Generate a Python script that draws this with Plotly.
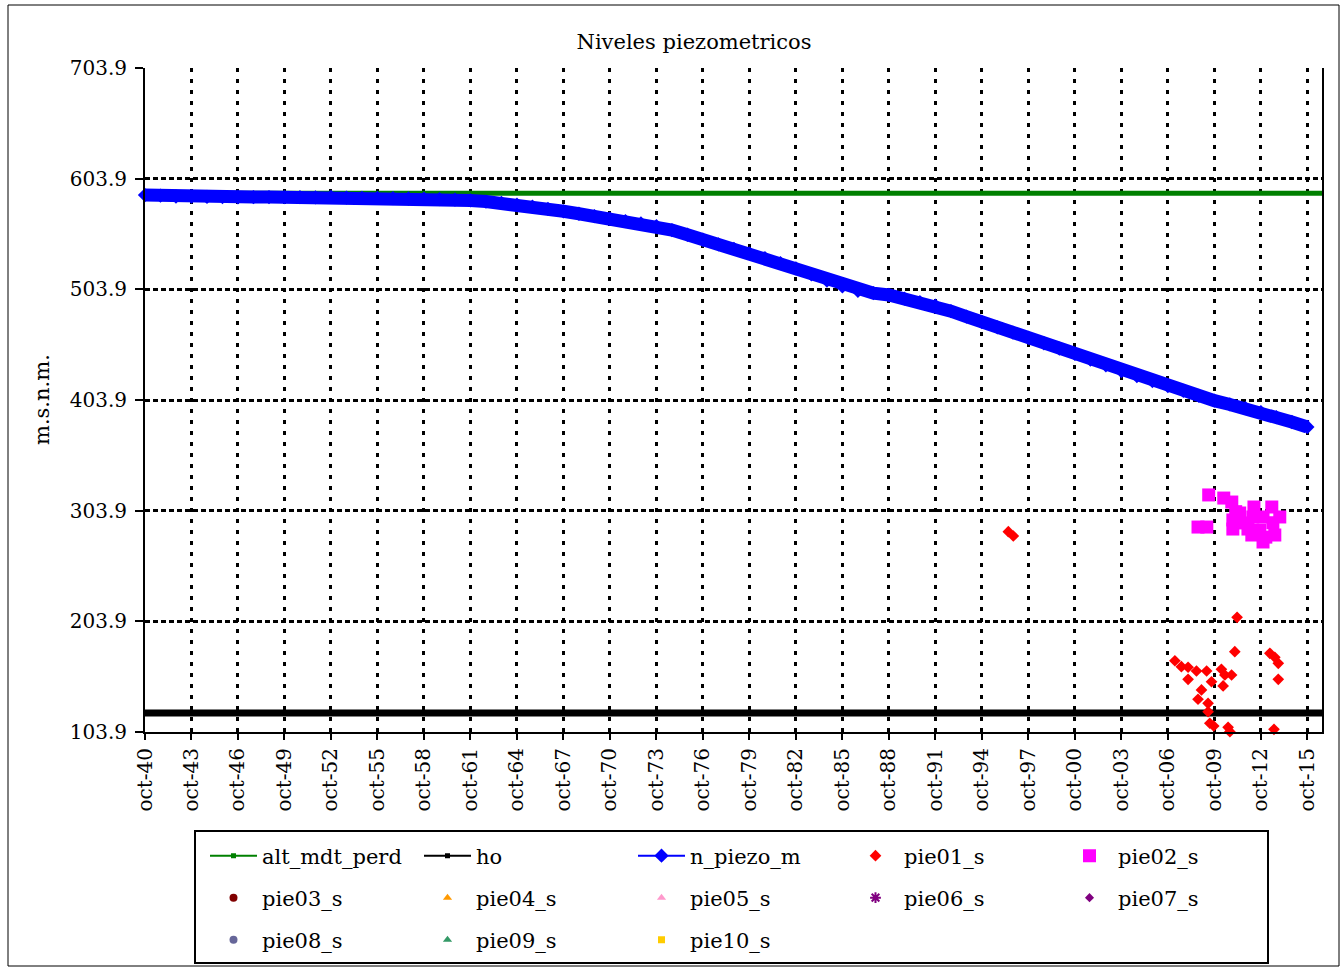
import plotly.graph_objects as go

FONT = "DejaVu Serif"

# n_piezo_m : one reading per october, 1940 -> 2015 (m.s.n.m.)
piezo_years = list(range(1940, 2016))
n_piezo_m = [
    589.1, 588.5, 587.8, 587.6, 587.4, 587.3, 587.1, 587.3, 587.3, 587.2,
    587.2, 587.0, 587.4, 586.8, 586.6, 586.5, 586.3, 586.0, 585.9, 585.4,
    585.0, 584.2, 583.2, 582.0, 580.4, 578.6, 576.6, 574.4, 572.2, 570.0,
    567.7, 565.6, 563.4, 561.1, 557.4, 553.2, 548.7, 544.6, 540.5, 536.4,
    532.0, 527.5, 522.9, 517.5, 511.8, 506.5, 502.6, 500.5, 498.8, 495.5,
    492.3, 489.1, 484.2, 479.3, 474.4, 469.6, 464.8, 460.0, 455.2, 450.4,
    445.5, 440.4, 435.2, 430.0, 425.5, 421.0, 416.5, 412.1, 407.7, 403.3,
    399.9, 396.5, 393.0, 388.5, 384.0, 379.5,
]
piezo_dates = ["%d-10-01" % y for y in piezo_years]

# constant levels over the whole period
ref_dates = ["1940-10-01", "2016-09-10"]
alt_mdt_perd = [590.7, 590.7]
ho = [121.1, 121.1]

# pie01_s
pie01_dates = [
    "1996-06-15", "1996-10-10", "2007-03-15", "2007-08-15", "2008-01-20",
    "2008-01-20", "2008-08-05", "2008-09-10", "2008-12-01", "2009-04-01",
    "2009-05-05", "2009-05-05", "2009-06-15", "2009-07-25", "2009-09-15",
    "2010-03-15", "2010-04-25", "2010-06-05", "2010-08-20", "2010-10-01",
    "2010-11-10", "2011-01-25", "2011-03-20", "2013-04-30", "2013-08-25",
    "2013-11-15", "2013-11-15", "2013-08-05",
]
pie01_s = [
    284.9, 281.0, 168.3, 162.9, 162.4,
    151.5, 159.0, 133.5, 141.9, 159.0,
    129.8, 122.2, 111.8, 149.3, 109.3,
    160.6, 145.5, 155.4, 108.1, 104.2,
    155.4, 176.5, 207.5, 175.0, 171.4,
    166.0, 151.5, 106.3,
]

# pie02_s
pie02_dates = [
    "2008-09-10", "2009-04-05", "2009-05-20", "2010-05-10", "2010-11-15",
    "2010-12-10", "2010-12-10", "2011-02-15", "2011-05-20", "2011-08-01",
    "2011-12-01", "2012-03-01", "2012-04-20", "2012-03-25", "2012-09-05",
    "2012-11-20", "2012-11-20", "2013-01-25", "2013-06-15", "2013-07-10",
    "2013-08-25", "2013-12-20",
]
pie02_s = [
    289.1, 289.1, 318.1, 315.3, 311.7,
    295.5, 287.3, 303.0, 301.8, 292.8,
    287.3, 281.9, 307.2, 298.2, 286.4,
    298.2, 275.6, 280.0, 307.2, 293.0,
    281.9, 298.2,
]

# axis ticks
tick_years = list(range(1940, 2016, 3))
tick_dates = ["%d-10-01" % y for y in tick_years]
tick_labels = ["oct-%02d" % (y % 100) for y in tick_years]
y_ticks = [103.9, 203.9, 303.9, 403.9, 503.9, 603.9, 703.9]

# series with no data, only present in the legend
empty_series = [
    ("pie03_s", "circle", "#800000", 8, "legend2"),
    ("pie04_s", "triangle-up", "#FF9900", 8, "legend2"),
    ("pie05_s", "triangle-up", "#FF99CC", 8, "legend2"),
    ("pie06_s", "asterisk-open", "#800080", 9, "legend2"),
    ("pie07_s", "diamond", "#800080", 7, "legend2"),
    ("pie08_s", "circle", "#666699", 8, "legend3"),
    ("pie09_s", "triangle-up", "#339966", 8, "legend3"),
    ("pie10_s", "square", "#FFCC00", 7, "legend3"),
]

fig = go.Figure()

# plotted lines (thick), legend entries are added separately with thin lines
fig.add_trace(go.Scatter(x=ref_dates, y=alt_mdt_perd, mode="lines",
                         line=dict(color="#008000", width=5), showlegend=False))
fig.add_trace(go.Scatter(x=ref_dates, y=ho, mode="lines",
                         line=dict(color="black", width=7), showlegend=False))
fig.add_trace(go.Scatter(x=piezo_dates, y=n_piezo_m, mode="lines+markers",
                         line=dict(color="#0000FF", width=13),
                         marker=dict(symbol="diamond", size=11, color="#0000FF"),
                         cliponaxis=False, showlegend=False))

# legend row 1
fig.add_trace(go.Scatter(x=[None], y=[None], name="alt_mdt_perd", mode="lines+markers",
                         line=dict(color="#008000", width=2),
                         marker=dict(symbol="square", size=5, color="#008000"),
                         legend="legend"))
fig.add_trace(go.Scatter(x=[None], y=[None], name="ho", mode="lines+markers",
                         line=dict(color="black", width=2),
                         marker=dict(symbol="square", size=5, color="black"),
                         legend="legend"))
fig.add_trace(go.Scatter(x=[None], y=[None], name="n_piezo_m", mode="lines+markers",
                         line=dict(color="#0000FF", width=2),
                         marker=dict(symbol="diamond", size=11, color="#0000FF"),
                         legend="legend"))
fig.add_trace(go.Scatter(x=pie01_dates, y=pie01_s, name="pie01_s", mode="markers",
                         marker=dict(symbol="diamond", size=9, color="#FF0000"),
                         cliponaxis=False, legend="legend"))
fig.add_trace(go.Scatter(x=pie02_dates, y=pie02_s, name="pie02_s", mode="markers",
                         marker=dict(symbol="square", size=13, color="#FF00FF"),
                         legend="legend"))

# legend rows 2 and 3
for name, sym, col, size, leg in empty_series:
    fig.add_trace(go.Scatter(x=[None], y=[None], name=name, mode="markers",
                             marker=dict(symbol=sym, size=size, color=col,
                                         line=dict(color=col, width=2 if "open" in sym else 0)),
                             legend=leg))

W, H = 1341, 969
L, R, T, B = 145, 19, 68, 237
pw, ph = W - L - R, H - T - B


def px_x(x):
    return (x - L) / pw


def px_y(y):
    return (H - B - y) / ph


def row_legend(ypx):
    return dict(orientation="h", x=px_x(205), xanchor="left",
                y=px_y(ypx), yanchor="middle",
                bgcolor="rgba(0,0,0,0)", borderwidth=0,
                font=dict(family=FONT, size=21, color="black"),
                entrywidth=152, entrywidthmode="pixels", itemwidth=47,
                itemclick=False, itemdoubleclick=False)


fig.update_layout(
    width=W, height=H,
    margin=dict(l=L, r=R, t=T, b=B, autoexpand=False),
    paper_bgcolor="white", plot_bgcolor="white",
    font=dict(family=FONT, size=20, color="black"),
    title=dict(text="Niveles piezometricos", xref="container", x=694 / W, xanchor="center",
               yref="container", y=1 - 42 / H, yanchor="middle",
               font=dict(family=FONT, size=21, color="black")),
    xaxis=dict(type="date", range=["1940-10-01", "2016-09-10"],
               tickmode="array", tickvals=tick_dates, ticktext=tick_labels, tickangle=-90,
               ticks="outside", ticklen=6, tickwidth=2, tickcolor="black",
               showline=True, linecolor="black", linewidth=2,
               showgrid=True, gridcolor="black", gridwidth=2.5, griddash="4px,7px",
               zeroline=False, automargin=False,
               tickfont=dict(family=FONT, size=20, color="black")),
    yaxis=dict(range=[103.9, 703.9], tickmode="array", tickvals=y_ticks,
               ticktext=["%.1f" % v for v in y_ticks],
               ticks="outside", ticklen=8, tickwidth=2, tickcolor="black",
               showline=True, mirror=True, linecolor="black", linewidth=2,
               showgrid=True, gridcolor="black", gridwidth=2.5, griddash="5px,3px",
               zeroline=False, ticklabelstandoff=4, automargin=False,
               tickfont=dict(family=FONT, size=20, color="black")),
    legend=row_legend(856),
    legend2=row_legend(898),
    legend3=row_legend(940),
    shapes=[
        # outer frame
        dict(type="rect", xref="paper", yref="paper",
             x0=px_x(8), x1=px_x(1339), y0=px_y(966), y1=px_y(5),
             line=dict(color="black", width=1), layer="below"),
        # legend frame
        dict(type="rect", xref="paper", yref="paper",
             x0=px_x(195), x1=px_x(1268), y0=px_y(963), y1=px_y(831),
             line=dict(color="black", width=2)),
    ],
    annotations=[
        dict(text="m.s.n.m.", xref="paper", yref="paper", x=px_x(42), y=0.5,
             xanchor="center", yanchor="middle", textangle=-90, showarrow=False,
             font=dict(family=FONT, size=21, color="black")),
    ],
)

# page body margin would push the figure off by 8px
fig.write_html("out.html", config={"displayModeBar": False},
               post_script="document.body.style.margin='0';")
